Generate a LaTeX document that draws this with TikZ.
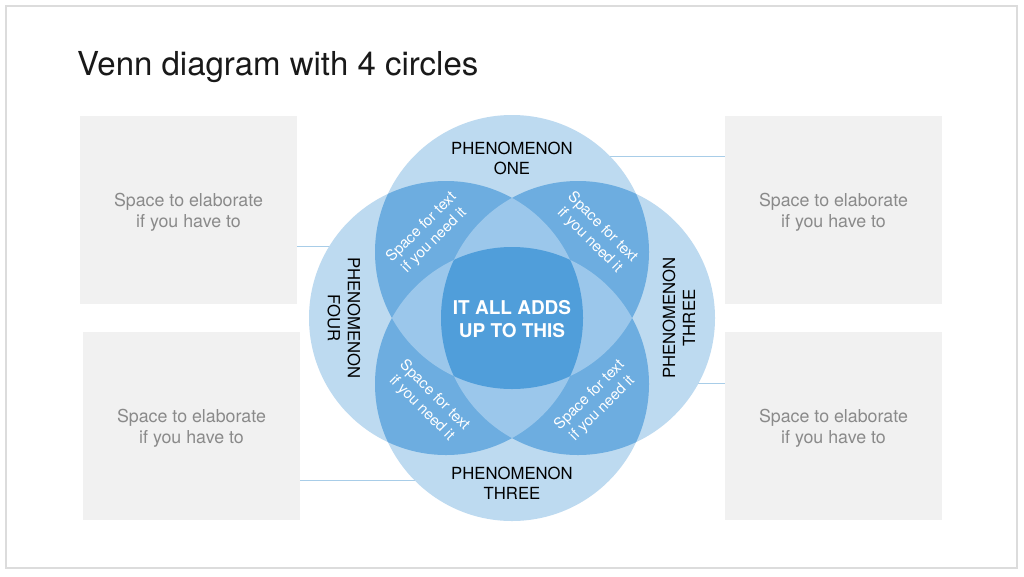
\documentclass[tikz,border=0pt]{standalone}
\usepackage{fontspec}
\setmainfont{TeX Gyre Heros}
\definecolor{cone}{HTML}{BDDAF0}
\definecolor{ctwo}{HTML}{6DADE0}
\definecolor{cthree}{HTML}{9BC7EB}
\definecolor{cfour}{HTML}{509EDA}
\definecolor{linkc}{HTML}{A8CDE8}
\definecolor{boxc}{HTML}{F1F1F1}
\definecolor{boxtext}{HTML}{8A8A8A}
\definecolor{framec}{HTML}{DCDCDC}
\begin{document}
\begin{tikzpicture}[x=1pt,y=-1pt,
  sidebox/.style={fill=boxc, draw=none, minimum width=217pt, minimum height=188pt, inner sep=0pt},
  boxlabel/.style={align=center, text=boxtext, inner sep=0pt, font=\fontsize{17.8}{21}\selectfont},
  link/.style={draw=linkc, line width=1pt},
  phen/.style={align=center, text=black, font=\fontsize{16.7}{20}\selectfont, inner sep=0pt},
  spacetxt/.style={align=center, text=white, font=\fontsize{15}{18}\selectfont, inner sep=0pt},
  centertxt/.style={align=center, text=white, font=\bfseries\fontsize{19}{23}\selectfont, inner sep=0pt}]
\def\R{137pt}
\useasboundingbox (0,0) rectangle (1024,576);
\fill[white] (0,0) rectangle (1024,576);
\draw[framec, line width=1.5pt] (6,6) rectangle (1017,568);

% title
\node[anchor=base west, inner sep=0pt, font=\fontsize{33}{38}\selectfont, text=black!90] (title) at (77,75) {Venn diagram with 4 circles};

% side boxes
\node[sidebox] (b1) at (188.5,210) {};
\node[sidebox] (b2) at (191.5,426) {};
\node[sidebox] (b3) at (833.5,210) {};
\node[sidebox] (b4) at (833.5,426) {};
\node[boxlabel] (t1) at (188.5,212) {Space to elaborate\\if you have to};
\node[boxlabel] (t2) at (191.5,428) {Space to elaborate\\if you have to};
\node[boxlabel] (t3) at (833.5,212) {Space to elaborate\\if you have to};
\node[boxlabel] (t4) at (833.5,428) {Space to elaborate\\if you have to};

% circle centres
\coordinate (cT) at (512,252);
\coordinate (cB) at (512,384);
\coordinate (cL) at (446,318);
\coordinate (cR) at (578,318);

% connector end points on the circles
\coordinate (e1) at (335,246);
\coordinate (e2) at (420,480);
\coordinate (e3) at (605,156);
\coordinate (e4) at (693,383);
\draw[link] (b1.east |- e1) -- (e1);
\draw[link] (b2.east |- e2) -- (e2);
\draw[link] (b3.west |- e3) -- (e3);
\draw[link] (b4.west |- e4) -- (e4);

% single circles
\fill[cone] (cT) circle[radius=\R];
\fill[cone] (cB) circle[radius=\R];
\fill[cone] (cL) circle[radius=\R];
\fill[cone] (cR) circle[radius=\R];
% adjacent pairs
\begin{scope}
  \clip (cT) circle[radius=\R];
  \fill[ctwo] (cL) circle[radius=\R];
  \fill[ctwo] (cR) circle[radius=\R];
\end{scope}
\begin{scope}
  \clip (cB) circle[radius=\R];
  \fill[ctwo] (cL) circle[radius=\R];
  \fill[ctwo] (cR) circle[radius=\R];
\end{scope}
% triples
\begin{scope}
  \clip (cL) circle[radius=\R];
  \clip (cR) circle[radius=\R];
  \fill[cthree] (cT) circle[radius=\R];
  \fill[cthree] (cB) circle[radius=\R];
\end{scope}
\begin{scope}
  \clip (cT) circle[radius=\R];
  \clip (cB) circle[radius=\R];
  \fill[cthree] (cL) circle[radius=\R];
  \fill[cthree] (cR) circle[radius=\R];
\end{scope}
% all four
\begin{scope}
  \clip (cT) circle[radius=\R];
  \clip (cB) circle[radius=\R];
  \clip (cL) circle[radius=\R];
  \fill[cfour] (cR) circle[radius=\R];
\end{scope}

% labels
\node[phen] (p1) at (512,158) {PHENOMENON\\ONE};
\node[phen] (p3b) at (512,483) {PHENOMENON\\THREE};
\node[phen, rotate=-90] (p4) at (344,318) {PHENOMENON\\FOUR};
\node[phen, rotate=90] (p3r) at (679,318) {PHENOMENON\\THREE};

\node[spacetxt, rotate=45] (s1) at (428,234) {Space for text\\if you need it};
\node[spacetxt, rotate=-45] (s2) at (596,234) {Space for text\\if you need it};
\node[spacetxt, rotate=-45] (s3) at (428,402) {Space for text\\if you need it};
\node[spacetxt, rotate=45] (s4) at (596,402) {Space for text\\if you need it};

\node[centertxt] (ctr) at (512,319) {IT ALL ADDS\\UP TO THIS};
\end{tikzpicture}
\end{document}
